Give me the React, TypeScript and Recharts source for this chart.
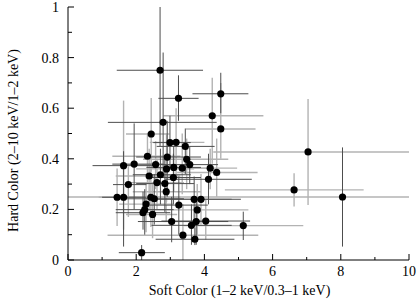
import React from 'react';
import { ScatterChart, Scatter, XAxis, YAxis, ErrorBar } from 'recharts';

// Soft colour (x) and hard colour (y) of each source
const softColor = [2.70, 3.24, 4.48, 4.23, 2.79, 4.48, 2.44, 2.99, 3.17, 3.44, 2.33, 2.91, 3.48, 1.63, 1.94, 2.57, 3.57, 2.89, 3.10, 3.35, 4.17, 4.36, 2.38, 2.71, 3.09, 4.12, 2.61, 2.84, 1.77, 2.88, 1.44, 1.63, 2.43, 2.53, 3.70, 3.90, 3.25, 2.29, 2.25, 3.79, 2.20, 2.48, 3.04, 3.76, 4.04, 3.62, 3.37, 3.72, 2.16, 7.04, 6.63, 8.05, 5.14];
const hardColor = [0.750, 0.639, 0.657, 0.570, 0.544, 0.518, 0.498, 0.464, 0.465, 0.449, 0.410, 0.407, 0.398, 0.373, 0.379, 0.377, 0.377, 0.360, 0.366, 0.363, 0.363, 0.346, 0.332, 0.337, 0.326, 0.319, 0.306, 0.302, 0.298, 0.270, 0.248, 0.248, 0.248, 0.242, 0.240, 0.240, 0.217, 0.221, 0.199, 0.198, 0.187, 0.180, 0.152, 0.152, 0.154, 0.137, 0.098, 0.082, 0.029, 0.427, 0.277, 0.249, 0.136];

// error ranges (absolute limits)
const softLow = [1.43, 2.65, 3.65, 2.80, 1.17, 3.46, 1.70, 2.50, 2.40, 2.60, 1.30, 2.00, 2.20, 0.72, 1.30, 1.60, 2.70, 2.00, 2.30, 2.40, 3.40, 3.20, 1.40, 1.90, 2.30, 2.85, 1.80, 2.00, 1.32, 1.90, 0.90, 1.00, 1.60, 1.70, 2.33, 3.00, 2.40, 1.50, 1.40, 2.29, 1.40, 1.70, 2.05, 2.80, 2.74, 2.45, 1.16, 2.57, 1.49, 4.26, 4.60, 0.00, 3.40];
const softHigh = [3.96, 3.83, 5.29, 5.73, 4.36, 5.50, 2.98, 3.60, 4.00, 4.30, 3.30, 3.90, 4.70, 2.60, 2.80, 3.50, 4.40, 3.70, 3.90, 4.20, 4.96, 5.56, 3.30, 3.60, 3.90, 5.39, 3.40, 3.70, 2.30, 3.90, 2.00, 2.30, 3.30, 3.40, 5.07, 4.80, 4.10, 3.10, 3.10, 5.29, 3.00, 3.20, 4.00, 4.70, 5.34, 4.80, 5.58, 4.88, 2.84, 10.0, 8.67, 10.0, 6.90];
const hardLow = [0.45, 0.55, 0.58, 0.38, 0.33, 0.40, 0.35, 0.36, 0.32, 0.34, 0.30, 0.25, 0.28, 0.12, 0.20, 0.28, 0.30, 0.23, 0.27, 0.26, 0.28, 0.25, 0.20, 0.22, 0.22, 0.22, 0.20, 0.19, 0.17, 0.15, 0.134, 0.053, 0.13, 0.14, 0.15, 0.14, 0.10, 0.11, 0.10, 0.08, 0.12, 0.086, 0.07, 0.06, 0.08, 0.06, 0.00, 0.059, 0.00, 0.217, 0.211, 0.053, 0.079];
const hardHigh = [1.00, 0.73, 0.74, 0.72, 0.82, 0.70, 0.64, 0.57, 0.60, 0.52, 0.50, 0.55, 0.48, 0.63, 0.54, 0.47, 0.45, 0.50, 0.45, 0.50, 0.44, 0.48, 0.44, 0.44, 0.42, 0.42, 0.40, 0.41, 0.37, 0.36, 0.362, 0.43, 0.36, 0.34, 0.33, 0.34, 0.33, 0.30, 0.28, 0.30, 0.27, 0.30, 0.25, 0.24, 0.24, 0.22, 0.22, 0.128, 0.059, 0.636, 0.343, 0.445, 0.191];

// 'd' = dark grey bar, 'l' = light grey bar
const softTone = ['d','d','d','l','d','l','l','d','l','d','l','d','l','d','d','l','d','l','d','l','l','l','l','d','d','d','l','d','d','l','l','d','l','d','d','l','d','l','d','l','d','l','d','d','d','d','l','d','d','l','l','l','l'];
const hardTone = ['d','d','d','l','d','l','l','d','l','d','l','d','l','l','d','l','d','l','d','l','l','l','l','d','d','d','l','d','l','l','l','d','l','d','d','l','d','l','d','l','d','l','d','d','l','d','l','d','d','l','l','d','d'];

const xTicks = [0, 1, 2, 3, 4, 5, 6, 7, 8, 9, 10];
const xTickLabels = ['0', '', '2', '', '4', '', '6', '', '8', '', '10'];
const yTicks = [0, 0.1, 0.2, 0.3, 0.4, 0.5, 0.6, 0.7, 0.8, 0.9, 1];
const yTickLabels = ['0', '', '0.2', '', '0.4', '', '0.6', '', '0.8', '', '1'];

const xTitle = 'Soft Color (1\u20132 keV/0.3\u20131 keV)';
const yTitle = 'Hard Color (2\u201310 keV/1\u20132 keV)';

const rows = softColor.map((x, i) => {
  const y = hardColor[i];
  const ex = [x - softLow[i], softHigh[i] - x];
  const ey = [y - hardLow[i], hardHigh[i] - y];
  const zero = [0, 0];
  return {
    x,
    y,
    exD: softTone[i] === 'd' ? ex : zero,
    exL: softTone[i] === 'l' ? ex : zero,
    eyD: hardTone[i] === 'd' ? ey : zero,
    eyL: hardTone[i] === 'l' ? ey : zero,
  };
});

const FONT = '"Liberation Serif", "Times New Roman", serif';
const DARK = '#4d4d4d';
const LIGHT = '#b3b3b3';

const BottomTick = (props: any) => {
  const { x, y, index } = props;
  const major = index % 2 === 0;
  return (
    <g>
      <line x1={x} x2={x} y1={y} y2={y - (major ? 6 : 3)} stroke="#000" strokeWidth={1} />
      {major && (
        <text x={x} y={y + 16} textAnchor="middle" fontFamily={FONT} fontSize={14} fill="#000">
          {xTickLabels[index]}
        </text>
      )}
    </g>
  );
};

const TopTick = (props: any) => {
  const { x, y, index } = props;
  const major = index % 2 === 0;
  return <line x1={x} x2={x} y1={y} y2={y + (major ? 6 : 3)} stroke="#000" strokeWidth={1} />;
};

const LeftTick = (props: any) => {
  const { x, y, index } = props;
  const major = index % 2 === 0;
  return (
    <g>
      <line x1={x} x2={x + (major ? 6 : 4)} y1={y} y2={y} stroke="#000" strokeWidth={1} />
      {major && (
        <text x={x - 9} y={y + 5} textAnchor="end" fontFamily={FONT} fontSize={14} fill="#000">
          {yTickLabels[index]}
        </text>
      )}
    </g>
  );
};

const RightTick = (props: any) => {
  const { x, y, index } = props;
  const major = index % 2 === 0;
  return <line x1={x} x2={x - (major ? 6 : 4)} y1={y} y2={y} stroke="#000" strokeWidth={1} />;
};

const XTitle = (props: any) => {
  const vb = props.viewBox;
  return (
    <text x={vb.x + vb.width / 2 + 1} y={vb.y + 35} textAnchor="middle" fontFamily={FONT} fontSize={14} fill="#000">
      {xTitle}
    </text>
  );
};

const YTitle = (props: any) => {
  const vb = props.viewBox;
  const cx = 18;
  const cy = vb.y + vb.height / 2 + 7;
  return (
    <text x={cx} y={cy} transform={`rotate(-90, ${cx}, ${cy})`} textAnchor="middle" fontFamily={FONT} fontSize={14} fill="#000">
      {yTitle}
    </text>
  );
};

const Empty = () => <g />;
const Dot = (p: any) => <circle cx={p.cx} cy={p.cy} r={3.6} fill="#000" />;

export default function App() {
  return (
    <div style={{ position: 'absolute', left: 0, top: 0, width: 419, height: 300, background: '#fff' }}>
      <ScatterChart width={419} height={300} margin={{ top: 7, right: 10, bottom: 0, left: 0 }}>
        <XAxis
          xAxisId="b"
          dataKey="x"
          type="number"
          domain={[0, 10]}
          ticks={xTicks}
          interval={0}
          allowDataOverflow
          tickSize={0}
          tickMargin={0}
          tickLine={false}
          tick={<BottomTick />}
          axisLine={{ stroke: '#000' }}
          height={40}
          label={<XTitle />}
        />
        <XAxis
          xAxisId="t"
          dataKey="x"
          orientation="top"
          type="number"
          domain={[0, 10]}
          ticks={xTicks}
          interval={0}
          allowDataOverflow
          tickSize={0}
          tickMargin={0}
          tickLine={false}
          tick={<TopTick />}
          axisLine={{ stroke: '#000' }}
          height={0}
        />
        <YAxis
          yAxisId="l"
          dataKey="y"
          type="number"
          domain={[0, 1]}
          ticks={yTicks}
          interval={0}
          allowDataOverflow
          tickSize={0}
          tickMargin={0}
          tickLine={false}
          tick={<LeftTick />}
          axisLine={{ stroke: '#000' }}
          width={68}
          label={<YTitle />}
        />
        <YAxis
          yAxisId="r"
          dataKey="y"
          orientation="right"
          type="number"
          domain={[0, 1]}
          ticks={yTicks}
          interval={0}
          allowDataOverflow
          tickSize={0}
          tickMargin={0}
          tickLine={false}
          tick={<RightTick />}
          axisLine={{ stroke: '#000' }}
          width={0}
        />
        <Scatter data={rows} xAxisId="t" yAxisId="r" shape={<Empty />} isAnimationActive={false} />
        <Scatter data={rows} xAxisId="b" yAxisId="l" shape={<Empty />} isAnimationActive={false}>
          <ErrorBar dataKey="exL" direction="x" width={0} stroke={LIGHT} strokeWidth={1.4} isAnimationActive={false} />
          <ErrorBar dataKey="eyL" direction="y" width={0} stroke={LIGHT} strokeWidth={1.4} isAnimationActive={false} />
        </Scatter>
        <Scatter data={rows} xAxisId="b" yAxisId="l" shape={<Empty />} isAnimationActive={false}>
          <ErrorBar dataKey="exD" direction="x" width={0} stroke={DARK} strokeWidth={1} isAnimationActive={false} />
          <ErrorBar dataKey="eyD" direction="y" width={0} stroke={DARK} strokeWidth={1} isAnimationActive={false} />
        </Scatter>
        <Scatter data={rows} xAxisId="b" yAxisId="l" shape={<Dot />} isAnimationActive={false} />
      </ScatterChart>
    </div>
  );
}
